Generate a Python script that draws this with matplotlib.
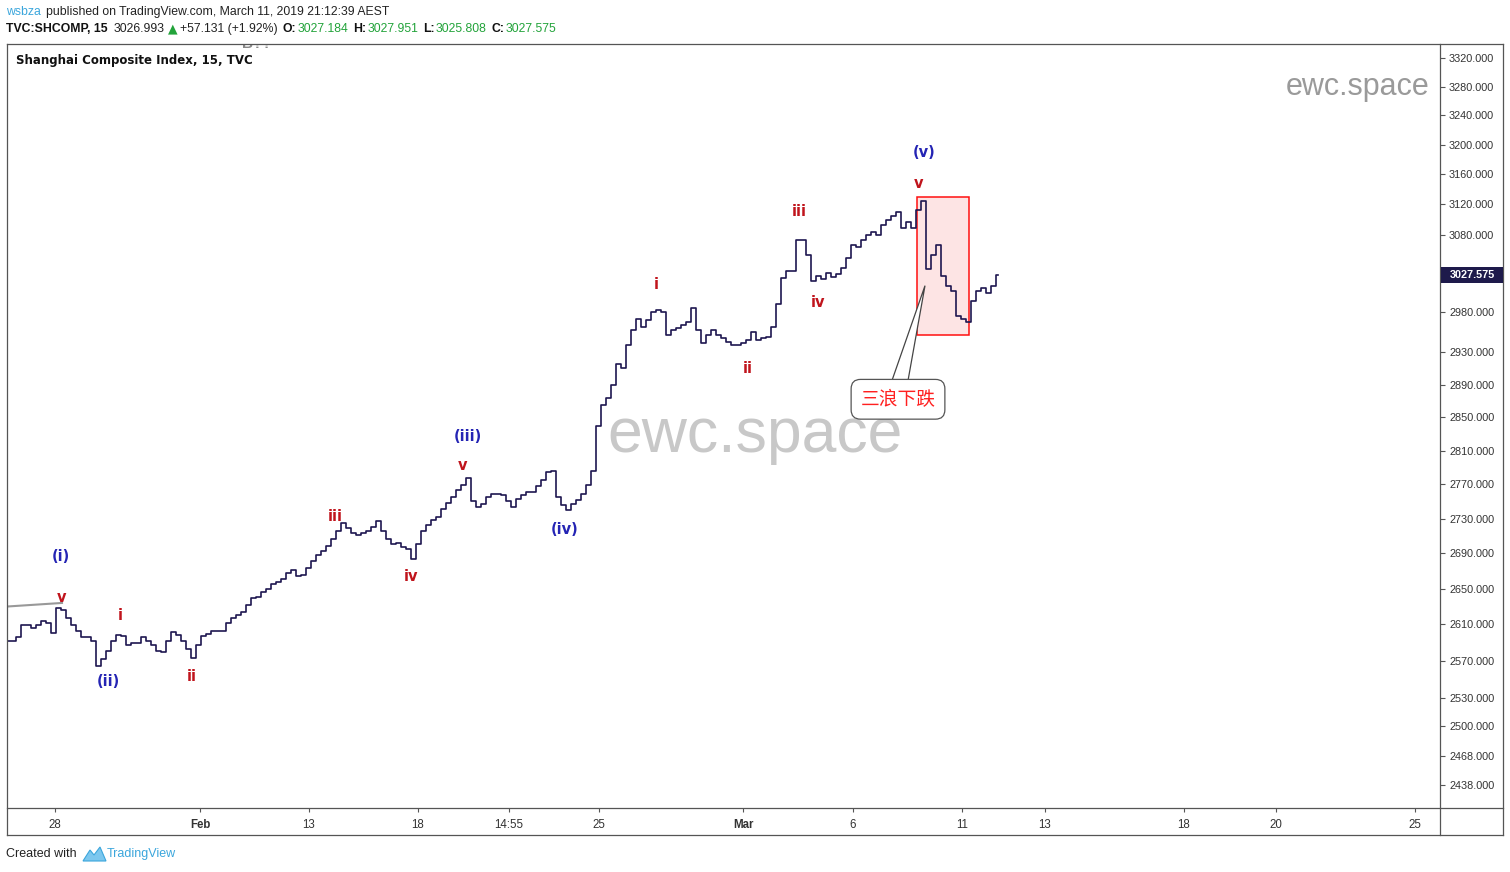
import numpy as np
import matplotlib
matplotlib.use("Agg")
import matplotlib.pyplot as plt
from matplotlib import transforms
from matplotlib.patches import Rectangle, Polygon
from matplotlib.lines import Line2D
from matplotlib.ticker import FixedLocator, FormatStrFormatter, NullLocator

plt.rcParams["font.family"] = ["Liberation Sans", "DejaVu Sans"]

# 15-min closes, SHCOMP, late Jan -> 11 Mar 2019
closes = [
    2592, 2592, 2596, 2609, 2609, 2606, 2609, 2614, 2612, 2601,
    2628, 2626, 2617, 2609, 2603, 2596, 2596, 2592, 2564, 2572,
    2581, 2592, 2598, 2597, 2587, 2590, 2590, 2596, 2592, 2587,
    2581, 2580, 2592, 2602, 2598, 2592, 2583, 2573, 2587, 2597,
    2599, 2603, 2603, 2603, 2612, 2617, 2621, 2624, 2632, 2639,
    2641, 2646, 2650, 2655, 2657, 2661, 2668, 2671, 2664, 2666,
    2673, 2681, 2688, 2693, 2699, 2707, 2716, 2725, 2719, 2714,
    2711, 2714, 2716, 2720, 2727, 2716, 2707, 2701, 2702, 2697,
    2695, 2684, 2701, 2716, 2723, 2728, 2732, 2741, 2748, 2755,
    2763, 2769, 2777, 2751, 2743, 2747, 2755, 2759, 2759, 2758,
    2751, 2744, 2753, 2758, 2761, 2761, 2768, 2775, 2785, 2786,
    2755, 2746, 2740, 2747, 2752, 2759, 2769, 2786, 2840, 2865,
    2873, 2889, 2915, 2910, 2939, 2958, 2972, 2961, 2970, 2980,
    2983, 2980, 2951, 2958, 2960, 2964, 2968, 2985, 2958, 2941,
    2951, 2958, 2951, 2948, 2943, 2939, 2939, 2941, 2945, 2955,
    2945, 2948, 2949, 2961, 2991, 3024, 3033, 3033, 3073, 3073,
    3053, 3020, 3026, 3022, 3030, 3025, 3029, 3037, 3049, 3066,
    3064, 3073, 3080, 3084, 3079, 3093, 3099, 3105, 3110, 3089,
    3097, 3089, 3112, 3125, 3036, 3053, 3066, 3026, 3013, 3007,
    2976, 2972, 2968, 2995, 3007, 3011, 3005, 3013, 3027.575,
]

price_ticks = [3320, 3280, 3240, 3200, 3160, 3120, 3080, 2980, 2930, 2890,
               2850, 2810, 2770, 2730, 2690, 2650, 2610, 2570, 2530, 2500,
               2468, 2438]
date_ticks = [9.4, 38.4, 60.2, 82, 100.2, 118.2, 147, 169, 190.8, 207.4,
              235.2, 253.6, 281.4]
date_labels = ["28", "Feb", "13", "18", "14:55", "25", "Mar", "6", "11", "13",
               "18", "20", "25"]

# wave labels: (text, bar index, price, colour)
RED = "#c0141c"
BLUE = "#2424b4"
waves = [
    ("(i)", 10.6, 2686, BLUE), ("v", 10.8, 2640, RED),
    ("i", 22.4, 2620, RED), ("(ii)", 20.0, 2548, BLUE),
    ("ii", 36.8, 2553, RED), ("iii", 65.4, 2733, RED),
    ("iv", 80.6, 2664, RED), ("(iii)", 92.0, 2827, BLUE),
    ("v", 91.0, 2792, RED), ("(iv)", 111.4, 2717, BLUE),
    ("i", 129.6, 3015, RED), ("ii", 148.0, 2910, RED),
    ("iii", 158.2, 3110, RED), ("iv", 162.0, 2992, RED),
    ("(v)", 183.2, 3189, BLUE), ("v", 182.2, 3148, RED),
]

W, H = 1510, 872
def fx(px):
    return px / W
def fy(py):
    return 1 - py / H

fig = plt.figure(figsize=(W / 100, H / 100), dpi=100)
ax = fig.add_axes([fx(7), fy(808), fx(1440) - fx(7), fy(44) - fy(808)])

x = np.arange(len(closes))
ax.step(x, closes, where="mid", color="#1e1650", lw=1.2, zorder=3)

ax.set_yscale("log")
ax.set_ylim(2414.3, 3339.8)
ax.set_xlim(-0.2, 286.4)
ax.yaxis.set_major_locator(FixedLocator(price_ticks))
ax.yaxis.set_major_formatter(FormatStrFormatter("%.3f"))
ax.yaxis.set_minor_locator(NullLocator())
ax.yaxis.tick_right()
ax.tick_params(axis="y", length=3.5, width=0.8, color="#555555", pad=3,
               labelsize=7.8, labelcolor="#333333")
ax.set_xticks(date_ticks)
ax.set_xticklabels(date_labels)
for lbl in ax.get_xticklabels():
    if lbl.get_text() in ("Feb", "Mar"):
        lbl.set_fontweight("bold")
ax.tick_params(axis="x", length=3, width=0.8, color="#555555", pad=5,
               labelsize=8.3, labelcolor="#333333")
for s in ax.spines.values():
    s.set_visible(False)

# trend line stub at left
ax.plot([-0.2, 10.8], [2630, 2634], color="#999999", lw=1.5, zorder=2)

# wave labels
for t, xi, p, c in waves:
    ax.text(xi, p, t, color=c, fontsize=10.5, fontweight="bold",
            family="DejaVu Sans", ha="center", va="center", zorder=4)

# highlighted box
ax.add_patch(Rectangle((181.8, 2952), 192.2 - 181.8, 3129 - 2952,
                       facecolor="#fde4e4", edgecolor="#ff1010", lw=1.1, zorder=1))

# callout
ax.add_patch(Polygon([(176.4, 2888), (183.4, 3014), (179.8, 2888)], closed=True,
                     facecolor="white", edgecolor="#444444", lw=0.9, zorder=5))
ax.text(178.0, 2872, "三浪下跌", color="#ff2020", fontsize=13.5,
        family=["Noto Sans CJK SC", "DejaVu Sans"], ha="center", va="center",
        zorder=6,
        bbox=dict(boxstyle="round,pad=0.5,rounding_size=0.5", fc="white",
                  ec="#555555", lw=0.9))

# watermarks
ax.text(149.5, 2828, "ewc.space", color="#c8c8c8", fontsize=45,
        ha="center", va="center", zorder=2.5)
ax.text(0.993, 0.944, "ewc.space", color="#9a9a9a", fontsize=22,
        ha="right", va="center", transform=ax.transAxes)
ax.text(0.006, 0.979, "Shanghai Composite Index, 15, TVC", color="#111111",
        fontsize=8.5, fontweight="bold", family="DejaVu Sans", ha="left",
        va="center", transform=ax.transAxes)
ax.text(0.174, 1.0, "B??", color="#888888", fontsize=11, fontweight="bold",
        ha="center", va="center", transform=ax.transAxes, clip_on=True)

# last price tag on the price scale
last = closes[-1]
blend = transforms.blended_transform_factory(fig.transFigure, ax.transData)
k = np.exp(8 * 4.2477e-4)
fig.add_artist(Rectangle((fx(1441), last / k), fx(1503) - fx(1441), last * k - last / k,
                         transform=blend, facecolor="#1e1a4b", edgecolor="none",
                         zorder=10))
fig.text(fx(1472), fy(274.5), f"{last:.3f}", color="white", fontsize=7.8,
         fontweight="bold", ha="center", va="center", zorder=11)

# frame lines
fc = "#555555"
for xs, ys in [((7, 1503), (44, 44)), ((7, 1503), (835, 835)), ((7, 7), (44, 835)),
               ((1503, 1503), (44, 835)), ((1440, 1440), (44, 835)),
               ((7, 1503), (808, 808))]:
    fig.add_artist(Line2D([fx(xs[0]), fx(xs[1])], [fy(ys[0]), fy(ys[1])],
                          color=fc, lw=0.9))

# header
hf = dict(fontsize=8.8, va="center", ha="left")
fig.text(fx(6), fy(12), "wsbza", color="#3ba6dc", **hf)
fig.text(fx(46), fy(12), "published on TradingView.com, March 11, 2019 21:12:39 AEST",
         color="#222222", **hf)
GREEN = "#22a33a"
parts = [
    ("TVC:SHCOMP, 15", "#111111", "bold", 6), ("3026.993", "#222222", "normal", 3),
    ("▲", GREEN, "normal", 3), ("+57.131 (+1.92%)", "#222222", "normal", 5),
    ("O:", "#111111", "bold", 1), ("3027.184", GREEN, "normal", 5),
    ("H:", "#111111", "bold", 1), ("3027.951", GREEN, "normal", 5),
    ("L:", "#111111", "bold", 1), ("3025.808", GREEN, "normal", 5),
    ("C:", "#111111", "bold", 1), ("3027.575", GREEN, "normal", 0),
]
renderer = fig.canvas.get_renderer()
cur = 6
for t, c, w, gap in parts:
    if t == "▲":
        txt = fig.text(fx(cur), fy(29), t, color=c, family="DejaVu Sans",
                       fontsize=9, va="center", ha="left")
    else:
        txt = fig.text(fx(cur), fy(29), t, color=c, fontweight=w,
                       fontsize=8.8, va="center", ha="left")
    cur = txt.get_window_extent(renderer=renderer).x1 + gap

# footer
fig.text(fx(6), fy(854), "Created with", color="#222222",
         fontsize=9, va="center", ha="left")
fig.add_artist(Polygon([(fx(83), fy(861)), (fx(90), fy(850)), (fx(94), fy(855)),
                        (fx(100), fy(847)), (fx(106), fy(861))], closed=True,
                       facecolor="#7cc7ee", edgecolor="#3ba6dc", lw=0.8))
fig.text(fx(107), fy(854), "TradingView", color="#3ba6dc",
         fontsize=9, va="center", ha="left")

fig.savefig("out.png", dpi=100, facecolor="white")
